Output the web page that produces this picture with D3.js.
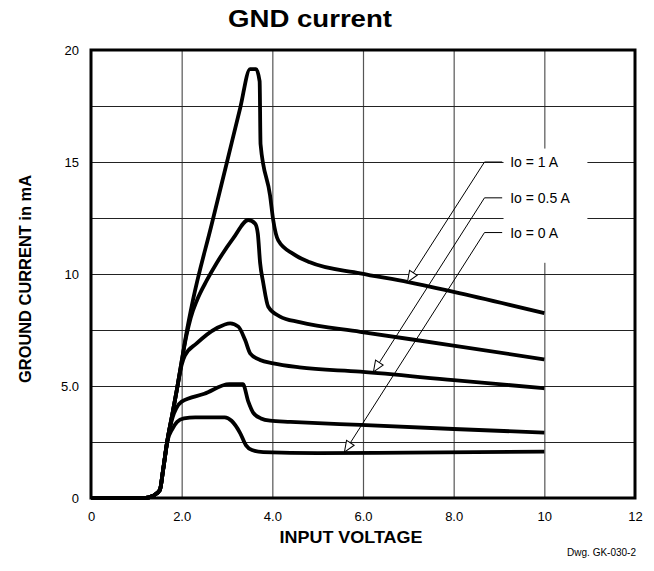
<!DOCTYPE html>
<html>
<head>
<meta charset="utf-8">
<script src="https://cdn.jsdelivr.net/npm/d3@7"></script>
<style>
body { margin: 0; background: #fff; }
text { font-family: "Liberation Sans", Arial, sans-serif; fill: #000; }
</style>
</head>
<body>
<script>
// input voltage (V) / ground current (mA)
var v1A  = [0, 1.2, 1.37, 1.52, 1.59, 1.68, 1.8, 1.9, 2.0, 2.1, 2.25, 2.66, 3.0, 3.29, 3.51, 3.64, 3.72, 3.74, 3.95, 4.02, 4.13, 4.46, 4.83, 5.94, 7.0, 8.0, 10];
var i1A  = [0, 0, 0.1, 0.36, 1.25, 2.5, 3.8, 4.9, 6.1, 7.3, 8.84, 12.2, 15.0, 17.4, 19.15, 19.15, 18.6, 15.8, 13.5, 12.4, 11.5, 10.9, 10.52, 10.03, 9.64, 9.2, 8.25];

var vB   = [0, 1.2, 1.37, 1.52, 1.59, 1.68, 1.8, 1.9, 2.0, 2.1, 2.2, 2.34, 2.55, 2.77, 3.14, 3.47, 3.62, 3.68, 3.73, 3.8, 3.91, 4.17, 4.6, 5.94, 7.92, 10];
var iB   = [0, 0, 0.1, 0.36, 1.25, 2.5, 3.8, 4.9, 6.1, 7.2, 8.05, 8.84, 9.7, 10.48, 11.6, 12.41, 12.25, 11.8, 10.5, 9.6, 8.54, 8.1, 7.85, 7.42, 6.83, 6.19];

var v05A = [0, 1.2, 1.37, 1.52, 1.59, 1.68, 1.8, 1.9, 2.0, 2.07, 2.33, 2.77, 3.07, 3.25, 3.4, 3.51, 3.73, 4.02, 4.6, 5.94, 8, 10];
var i05A = [0, 0, 0.1, 0.36, 1.25, 2.5, 3.8, 4.9, 5.95, 6.35, 6.9, 7.58, 7.8, 7.65, 7.05, 6.46, 6.16, 6.01, 5.83, 5.64, 5.26, 4.9];

var vD   = [0, 1.2, 1.37, 1.52, 1.59, 1.68, 1.8, 1.88, 2.0, 2.5, 3.05, 3.35, 3.47, 3.58, 3.75, 3.95, 4.4, 5.94, 8, 10];
var iD   = [0, 0, 0.1, 0.36, 1.25, 2.5, 3.6, 4.0, 4.3, 4.65, 5.08, 5.08, 4.3, 3.8, 3.55, 3.45, 3.4, 3.26, 3.08, 2.92];

var v0A  = [0, 1.2, 1.37, 1.52, 1.59, 1.68, 1.8, 1.9, 2.05, 2.3, 2.95, 3.1, 3.29, 3.42, 3.55, 3.8, 5, 7, 10];
var i0A  = [0, 0, 0.1, 0.36, 1.25, 2.5, 3.1, 3.4, 3.55, 3.6, 3.6, 3.45, 2.9, 2.35, 2.14, 2.05, 2.0, 2.03, 2.07];

var xTicks = [0, 2, 4, 6, 8, 10, 12];
var xTickLabels = ["0", "2.0", "4.0", "6.0", "8.0", "10", "12"];
var yTicks = [0, 5, 10, 15, 20];
var yTickLabels = ["0", "5.0", "10", "15", "20"];
var yGrid = [2.5, 5, 7.5, 10, 12.5, 15, 17.5];

// labels and where their arrows point
var labels = ["Io = 1 A", "Io = 0.5 A", "Io = 0 A"];
var labelY = [15.0, 13.4, 11.85];
var tipX = [6.98, 6.23, 5.59];
var tipY = [9.64, 5.63, 2.05];

var w = 654, h = 571;
var padL = 91, padR = 635, padT = 50, padB = 498;

var x = d3.scaleLinear().domain([0, 12]).range([padL, padR]);
var y = d3.scaleLinear().domain([0, 20]).range([padB, padT]);

var svg = d3.select("body").append("svg")
    .attr("width", w)
    .attr("height", h);

svg.append("defs").append("marker")
    .attr("id", "arr")
    .attr("markerUnits", "userSpaceOnUse")
    .attr("markerWidth", 14)
    .attr("markerHeight", 12)
    .attr("viewBox", "-1 -1 14 12")
    .attr("refX", 11)
    .attr("refY", 4.5)
    .attr("orient", "auto")
    .append("path")
    .attr("d", "M0,0 L11,4.5 L0,9 Z")
    .attr("fill", "#fff")
    .attr("stroke", "#000")
    .attr("stroke-width", 1);

// grid
svg.append("g")
    .attr("transform", "translate(0," + padB + ")")
    .call(d3.axisBottom(x).tickValues(xTicks.slice(1, -1)).tickSize(-(padB - padT)).tickFormat(""))
    .call(function(g) { g.select(".domain").remove(); })
    .selectAll("line").attr("stroke", "#555").attr("stroke-width", 1.2);

svg.append("g")
    .attr("transform", "translate(" + padL + ",0)")
    .call(d3.axisLeft(y).tickValues(yGrid).tickSize(-(padR - padL)).tickFormat(""))
    .call(function(g) { g.select(".domain").remove(); })
    .selectAll("line").attr("stroke", "#222").attr("stroke-width", 1.2);

// tick labels
var xAxis = svg.append("g")
    .attr("transform", "translate(0," + padB + ")")
    .call(d3.axisBottom(x).tickValues(xTicks).tickSize(0).tickPadding(14)
        .tickFormat(function(d, i) { return xTickLabels[i]; }));
xAxis.select(".domain").remove();
xAxis.selectAll("text").style("font-size", "13px").attr("fill", "#000");

var yAxis = svg.append("g")
    .attr("transform", "translate(" + padL + ",0)")
    .call(d3.axisLeft(y).tickValues(yTicks).tickSize(0).tickPadding(12)
        .tickFormat(function(d, i) { return yTickLabels[i]; }));
yAxis.select(".domain").remove();
yAxis.selectAll("text").style("font-size", "13px").attr("fill", "#000");

// white patch behind the labels
svg.append("rect")
    .attr("x", x(9.1))
    .attr("y", y(15.6))
    .attr("width", x(10.95) - x(9.1))
    .attr("height", y(10.5) - y(15.6))
    .attr("fill", "#fff");

// curves
var series = [[v1A, i1A], [vB, iB], [v05A, i05A], [vD, iD], [v0A, i0A]];
var line = d3.line()
    .x(function(d) { return x(d[0]); })
    .y(function(d) { return y(d[1]); })
    .curve(d3.curveMonotoneX);

svg.selectAll("path.curve")
    .data(series)
    .enter()
    .append("path")
    .attr("class", "curve")
    .attr("d", function(s) {
        return line(s[0].map(function(v, i) { return [v, s[1][i]]; }));
    })
    .attr("fill", "none")
    .attr("stroke", "#000")
    .attr("stroke-width", 3.8)
    .attr("stroke-linejoin", "round");

// frame
svg.append("rect")
    .attr("x", padL)
    .attr("y", padT)
    .attr("width", padR - padL)
    .attr("height", padB - padT)
    .attr("fill", "none")
    .attr("stroke", "#000")
    .attr("stroke-width", 3);

// leaders
labels.forEach(function(lab, i) {
    svg.append("line")
        .attr("x1", x(8.68)).attr("y1", y(labelY[i]))
        .attr("x2", x(9.07)).attr("y2", y(labelY[i]))
        .attr("stroke", "#000").attr("stroke-width", 1);
    svg.append("line")
        .attr("x1", x(8.68)).attr("y1", y(labelY[i]))
        .attr("x2", x(tipX[i])).attr("y2", y(tipY[i]))
        .attr("stroke", "#000").attr("stroke-width", 1)
        .attr("marker-end", "url(#arr)");
    svg.append("text")
        .attr("x", x(9.07) + 8)
        .attr("y", y(labelY[i]) + 5)
        .style("font-size", "14px")
        .text(lab);
});

// titles
svg.append("text")
    .attr("x", 310).attr("y", 27)
    .attr("text-anchor", "middle")
    .attr("textLength", 164).attr("lengthAdjust", "spacingAndGlyphs")
    .style("font-size", "24px").style("font-weight", "bold")
    .text("GND current");

svg.append("text")
    .attr("transform", "translate(31,279) rotate(-90)")
    .attr("text-anchor", "middle")
    .attr("textLength", 208).attr("lengthAdjust", "spacingAndGlyphs")
    .style("font-size", "17px").style("font-weight", "bold")
    .text("GROUND CURRENT in mA");

svg.append("text")
    .attr("x", 351).attr("y", 543)
    .attr("text-anchor", "middle")
    .attr("textLength", 143).attr("lengthAdjust", "spacingAndGlyphs")
    .style("font-size", "17px").style("font-weight", "bold")
    .text("INPUT VOLTAGE");

svg.append("text")
    .attr("x", 636).attr("y", 556)
    .attr("text-anchor", "end")
    .style("font-size", "10px")
    .text("Dwg. GK-030-2");
</script>
</body>
</html>
